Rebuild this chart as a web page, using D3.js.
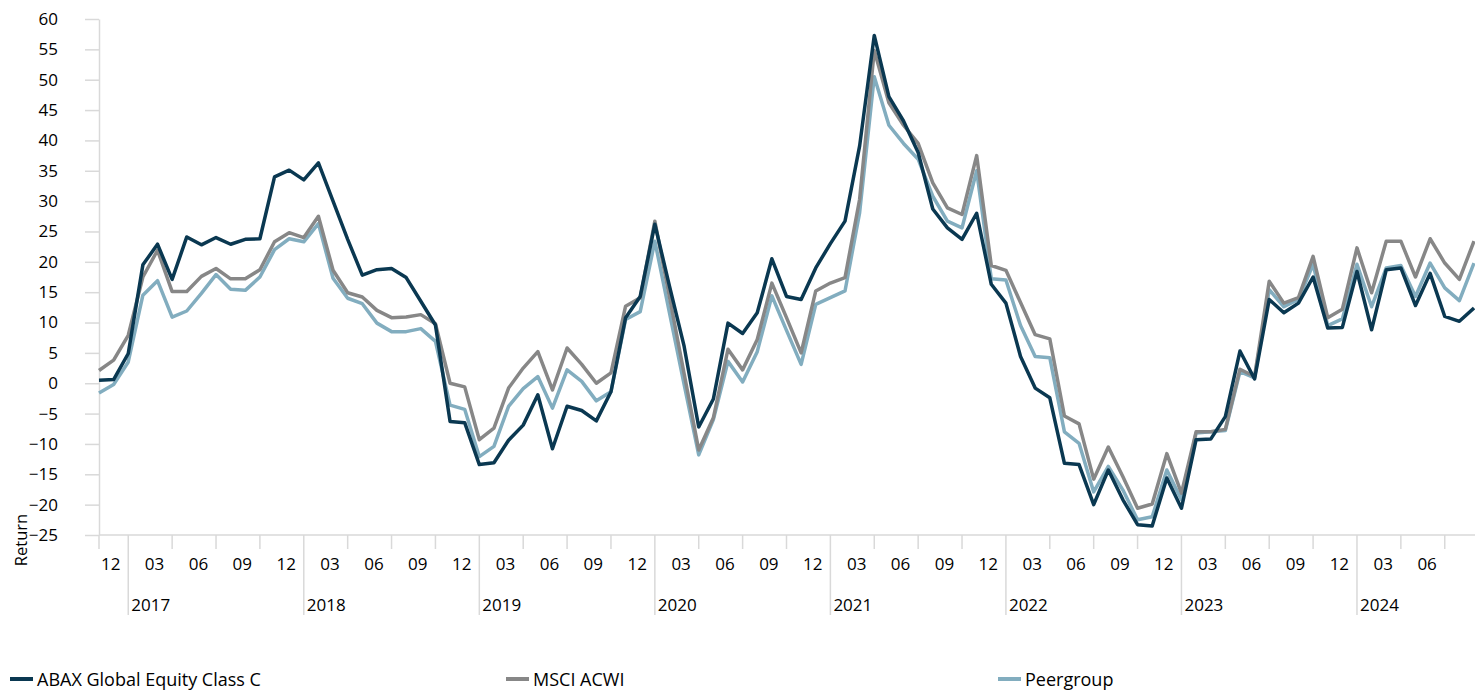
<!DOCTYPE html>
<html><head><meta charset="utf-8">
<script src="https://cdn.jsdelivr.net/npm/d3@7"></script>
<style>
body{margin:0;background:#fff}
svg text{font-family:"Open Sans",sans-serif;fill:#000}
</style>
</head><body>
<svg id="chart" width="1475" height="690"></svg>
<script>
// Categories: monthly, Nov 2016 .. Sep 2024
const months = d3.timeMonth.range(new Date(2016, 10, 1), new Date(2024, 9, 1));
const categories = months.map(d3.timeFormat("%Y-%m"));

const seriesNames = ["ABAX Global Equity Class C", "MSCI ACWI", "Peergroup"];
const seriesColors = ["#0a3851", "#878787", "#82adbf"];

const abax = [0.5,0.6,4.9,19.5,22.9,17.1,24.1,22.8,24.0,22.9,23.7,23.8,34.0,35.1,33.5,36.3,30.0,23.7,17.8,18.7,
  18.9,17.4,13.5,9.6,-6.3,-6.5,-13.4,-13.1,-9.4,-6.9,-1.9,-10.8,-3.8,-4.5,-6.2,-1.4,10.8,14.3,26.2,16.0,
  6.1,-7.2,-2.6,9.9,8.2,11.6,20.5,14.3,13.8,19.0,23.0,26.7,39.1,57.3,47.2,43.2,38.0,28.7,25.6,23.7,
  28.0,16.3,13.2,4.4,-0.8,-2.4,-13.2,-13.4,-20.0,-14.3,-19.2,-23.3,-23.5,-15.6,-20.6,-9.3,-9.2,-5.5,5.3,0.7,
  13.8,11.6,13.2,17.5,9.1,9.2,18.4,8.8,18.7,19.0,12.8,18.1,11.0,10.2,12.4];
const msci = [2.1,3.8,7.9,17.5,21.9,15.1,15.1,17.6,18.9,17.2,17.2,18.7,23.3,24.8,24.0,27.5,18.6,14.9,14.2,12.0,
  10.8,10.9,11.3,9.8,0.0,-0.6,-9.3,-7.4,-0.8,2.5,5.2,-1.1,5.8,3.1,0.0,1.7,12.7,14.1,26.7,14.2,
  1.6,-11.0,-5.7,5.6,2.2,7.2,16.5,10.8,5.0,15.2,16.5,17.4,30.3,54.8,46.2,42.5,39.5,33.0,28.9,27.8,
  37.5,19.4,18.6,13.3,8.0,7.3,-5.4,-6.7,-15.8,-10.5,-15.4,-20.6,-19.9,-11.6,-18.1,-8.0,-8.0,-7.6,2.3,1.1,
  16.8,13.2,14.1,20.9,10.8,12.2,22.3,14.9,23.4,23.4,17.5,23.8,19.8,17.1,23.4];
const peer = [-1.6,-0.2,3.5,14.5,16.9,10.9,11.9,14.8,17.9,15.5,15.3,17.5,22.0,23.8,23.3,26.3,17.3,14.0,13.1,9.9,
  8.5,8.5,9.0,6.9,-3.6,-4.3,-12.1,-10.4,-3.8,-0.9,1.1,-4.1,2.2,0.3,-2.9,-1.4,10.5,11.8,23.4,11.6,
  -0.2,-11.8,-6.0,3.6,0.2,5.2,14.4,8.7,3.1,13.0,14.1,15.2,28.1,50.5,42.5,39.5,36.9,30.8,26.7,25.6,
  35.0,17.2,17.0,9.5,4.4,4.2,-8.0,-9.9,-17.9,-13.7,-17.6,-22.5,-22.0,-14.3,-19.2,-8.2,-8.0,-7.8,1.9,0.9,
  15.4,12.6,13.8,19.6,9.5,10.6,19.6,12.6,19.0,19.4,14.3,19.8,15.7,13.6,19.8];
const yTicks = d3.range(-25, 61, 5);
const yTitle = "Return";

const svg = d3.select("#chart");
const axisColor = "#d9d9d9";

const x = d3.scalePoint().domain(categories).range([99, 1474]);
const y = d3.scaleLinear().domain([-25, 60]).range([535, 19]);

// Y axis
const gy = svg.append("g").attr("transform", "translate(99,0)")
  .call(d3.axisLeft(y).tickValues(yTicks).tickSize(14).tickSizeOuter(0).tickPadding(27));
gy.select(".domain").attr("stroke", axisColor).attr("stroke-width", 1.5);
gy.selectAll(".tick line").attr("stroke", axisColor).attr("stroke-width", 1.5);
gy.selectAll(".tick text").style("font-size", "17px");

// X axis base line
svg.append("line").attr("x1", 99).attr("x2", 1475).attr("y1", 535).attr("y2", 535)
  .attr("stroke", axisColor).attr("stroke-width", 1.5);

// minor ticks (Jan/Apr/Jul/Oct) + first, year boundaries longer
const tickIdx = d3.range(categories.length).filter(i => i === 0 || months[i].getMonth() % 3 === 0);
svg.append("g").selectAll("line").data(tickIdx).join("line")
  .attr("x1", i => x(categories[i])).attr("x2", i => x(categories[i]))
  .attr("y1", 535)
  .attr("y2", i => (i > 0 && months[i].getMonth() === 0) ? 615 : 549)
  .attr("stroke", axisColor).attr("stroke-width", 1.5);

// month labels (Mar/Jun/Sep/Dec), last category at plot edge not labelled
const labelCats = categories.filter((c, i) => months[i].getMonth() % 3 === 2 && i < categories.length - 1);
const gx = svg.append("g").attr("transform", "translate(-3.5,535)")
  .call(d3.axisBottom(x).tickValues(labelCats).tickSize(0).tickPadding(23)
    .tickFormat(c => c.slice(5)));
gx.select(".domain").remove();
gx.selectAll(".tick text").style("font-size", "17px");

// year labels
const yearCats = categories.filter((c, i) => months[i].getMonth() === 0);
svg.append("g").selectAll("text").data(yearCats).join("text")
  .attr("x", d => x(d) + 3).attr("y", 611)
  .style("font-size", "17px")
  .text(d => d.slice(0, 4));

// y title
svg.append("text").attr("transform", "translate(27,540) rotate(-90)")
  .attr("text-anchor", "middle").style("font-size", "16.5px").text(yTitle);

// lines
const data = [abax, msci, peer];
const line = d3.line().x((d, i) => x(categories[i])).y(d => y(d));
[2, 1, 0].forEach(k => {
  svg.append("path").datum(data[k]).attr("d", line)
    .attr("fill", "none").attr("stroke", seriesColors[k]).attr("stroke-width", 3.5)
    .attr("stroke-linejoin", "round");
});

// legend
const legendX = [10, 506, 998];
const lg = svg.append("g").selectAll("g").data(seriesNames).join("g")
  .attr("transform", (d, i) => `translate(${legendX[i]},0)`);
lg.append("rect").attr("x", 0).attr("y", 677).attr("width", 23).attr("height", 4)
  .attr("fill", (d, i) => seriesColors[i]);
lg.append("text").attr("x", 27).attr("y", 685.5).style("font-size", "18px").text(d => d);
</script>
</body></html>
